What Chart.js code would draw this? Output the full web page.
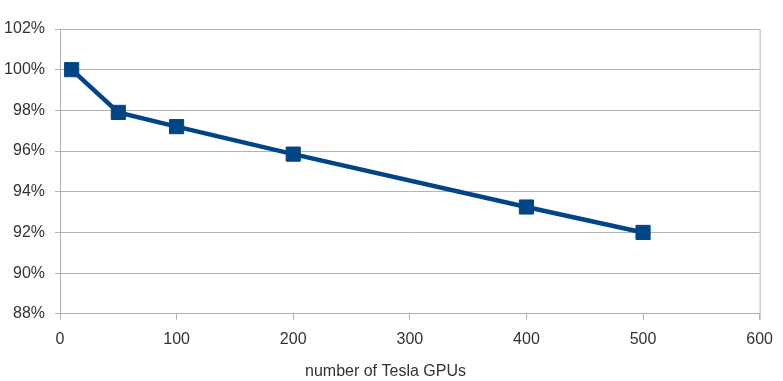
<!DOCTYPE html>
<html>
<head>
<meta charset="utf-8">
<script src="https://cdn.jsdelivr.net/npm/chart.js@4/dist/chart.umd.min.js"></script>
<style>
html,body{margin:0;padding:0;background:#fff;}
#wrap{width:783px;height:381px;position:relative;}
</style>
</head>
<body>
<div id="wrap"><canvas id="c" width="783" height="381"></canvas></div>
<script>
const gpuCounts = [10, 50, 100, 200, 400, 500];
const efficiency = [100, 97.9, 97.2, 95.85, 93.25, 92.0];
const xTicks = [0, 100, 200, 300, 400, 500, 600];
const yTicks = [88, 90, 92, 94, 96, 98, 100, 102];
const xTitle = 'number of Tesla GPUs';

const font = {family: '"Liberation Sans", Arial, sans-serif', size: 16};
new Chart(document.getElementById('c'), {
  type: 'scatter',
  data: {
    datasets: [{
      data: gpuCounts.map((x, i) => ({x: x, y: efficiency[i]})),
      showLine: true,
      borderColor: '#004586',
      backgroundColor: '#004586',
      borderWidth: 4.5,
      pointStyle: 'rect',
      pointRadius: 10,
      pointBorderWidth: 1,
      pointBorderColor: '#004586',
      pointBackgroundColor: '#004586',
      tension: 0
    }]
  },
  options: {
    responsive: false,
    animation: false,
    layout: {padding: {left: 0, right: 12, top: 29, bottom: 0}},
    plugins: {
      legend: {display: false},
      tooltip: {enabled: false},
      title: {display: true, position: 'bottom', text: xTitle, color: '#333', font: Object.assign({}, font, {weight: 'normal'}), padding: {top: 0, bottom: 0}}
    },
    scales: {
      x: {
        type: 'linear', min: 0, max: 600,
        afterBuildTicks: s => { s.ticks = xTicks.map(v => ({value: v})); },
        afterFit: s => { s.height = 48; },
        grid: {display: true, drawOnChartArea: false, color: '#b3b3b3', tickLength: 6},
        border: {color: '#b3b3b3'},
        ticks: {color: '#333', font: font, padding: 10, maxRotation: 0}
      },
      y: {
        min: 88, max: 102,
        afterBuildTicks: s => { s.ticks = yTicks.map(v => ({value: v})); },
        afterFit: s => { s.width = 60; },
        grid: {color: '#b3b3b3', tickLength: 5},
        border: {color: '#b3b3b3'},
        ticks: {color: '#333', font: font, padding: 10, callback: v => v + '%'}
      }
    }
  },
  plugins: [{
    id: 'rightBorder',
    afterDraw(chart) {
      const a = chart.chartArea, ctx = chart.ctx;
      ctx.save();
      ctx.strokeStyle = '#b3b3b3'; ctx.lineWidth = 1;
      ctx.beginPath(); ctx.moveTo(a.right + 0.5, a.top); ctx.lineTo(a.right + 0.5, a.bottom + 6); ctx.stroke();
      ctx.restore();
    }
  }]
});
</script>
</body>
</html>
